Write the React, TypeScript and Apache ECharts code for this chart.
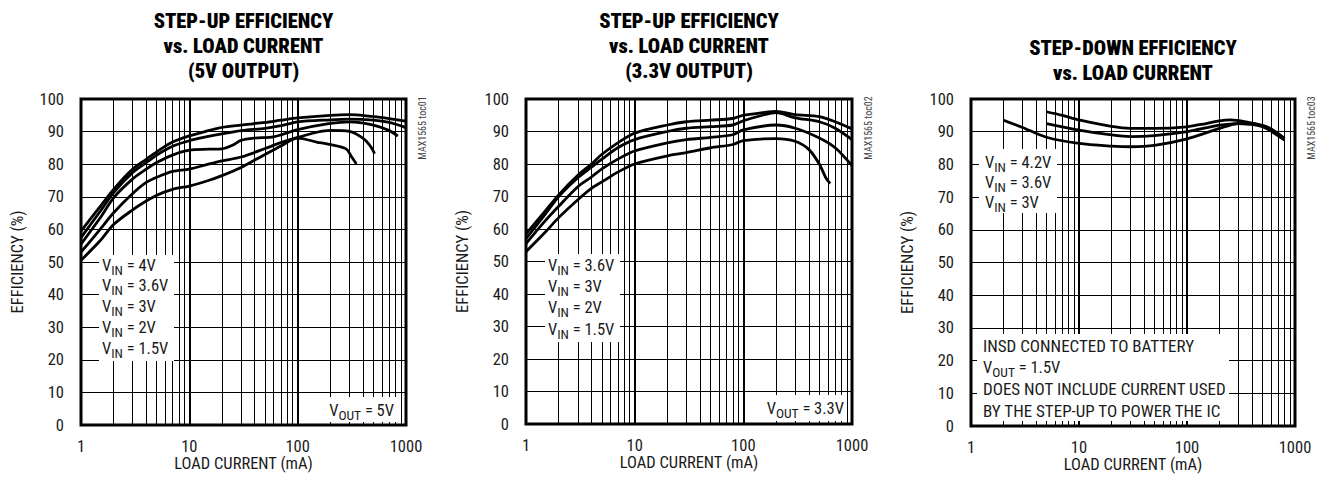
import React, { useEffect, useRef } from "react";
import * as echarts from "echarts";

// ---------- DATA ----------
const X_TICKS = [1, 10, 100, 1000];
const Y_TICKS = [0, 10, 20, 30, 40, 50, 60, 70, 80, 90, 100];
const MINOR_X = [2, 3, 4, 5, 6, 7, 8, 9, 20, 30, 40, 50, 60, 70, 80, 90, 200, 300, 400, 500, 600, 700, 800, 900];

// Panel 1: step-up, 5V output  [load mA, efficiency %]
const UP5_VIN4: number[][] = [[1, 59.5], [1.5, 67], [2, 72.3], [3, 78.5], [4, 81.5], [5, 83.8], [7, 86.8], [10, 88.7], [15, 90.3], [20, 91.3], [30, 92], [50, 92.8], [70, 93.5], [100, 94.2], [200, 95], [300, 95.2], [500, 94.6], [700, 94], [1000, 93.2]];
const UP5_VIN36: number[][] = [[1, 57.5], [1.5, 65.5], [2, 71.3], [3, 77.5], [4, 80.5], [5, 82.8], [7, 85.5], [10, 87.2], [15, 88.5], [20, 89.3], [30, 90.3], [50, 91], [70, 91.8], [100, 93], [200, 93.6], [300, 93.8], [500, 93.5], [700, 92.8], [1000, 91.2]];
const UP5_VIN3: number[][] = [[1, 55.5], [1.5, 63.5], [2, 69.7], [3, 75.5], [4, 78.5], [5, 80.5], [7, 82.8], [10, 84.3], [15, 84.6], [20, 84.7], [25, 85.8], [30, 87.3], [40, 88], [60, 88.4], [100, 90.6], [200, 92.5], [300, 93], [500, 92], [700, 90.3], [840, 88.6]];
const UP5_VIN2: number[][] = [[1, 53], [1.5, 60], [2, 65.1], [3, 71], [4, 74.4], [5, 76], [7, 77.8], [10, 78.5], [15, 80], [20, 81], [30, 82.2], [50, 84.8], [70, 86.6], [100, 88.2], [150, 89.8], [200, 90.4], [300, 90.1], [400, 88], [470, 85.5], [513, 83.2]];
const UP5_VIN15: number[][] = [[1, 50.5], [1.5, 56.5], [2, 61.5], [3, 66], [4, 68.7], [5, 70.5], [7, 72.3], [10, 73.3], [15, 75], [20, 76.5], [30, 79], [50, 83], [70, 85.6], [100, 88], [150, 86.8], [200, 86], [280, 84.7], [310, 82.6], [348, 80.1]];

// Panel 2: step-up, 3.3V output
const UP33_VIN36: number[][] = [[1, 58.5], [1.5, 65.5], [2, 70.5], [3, 76.5], [4, 80], [5, 83], [7, 86.5], [10, 89.5], [20, 92], [30, 93], [50, 93.5], [80, 94], [100, 95], [150, 95.8], [200, 96.2], [300, 95.2], [500, 94.6], [700, 93], [1000, 90.8]];
const UP33_VIN3: number[][] = [[1, 57], [1.5, 64.5], [2, 70], [3, 75.8], [4, 79], [5, 81.5], [7, 85], [10, 87.5], [20, 90], [30, 91], [50, 91.5], [80, 92], [100, 93.3], [150, 95], [200, 95.8], [300, 94.2], [500, 93], [700, 91], [1000, 87.5]];
const UP33_VIN2: number[][] = [[1, 55.5], [1.5, 62.5], [2, 67], [3, 73], [4, 76], [5, 78.5], [7, 81.5], [10, 84], [20, 86.5], [30, 87.5], [50, 88.2], [80, 89], [100, 90.5], [200, 92], [300, 91], [500, 88], [700, 85], [1000, 79.5]];
const UP33_VIN15: number[][] = [[1, 53], [1.5, 59], [2, 63.5], [3, 69], [4, 72.5], [5, 74.5], [7, 77.5], [10, 80], [20, 82.5], [30, 83.5], [50, 85], [80, 86], [100, 87.2], [200, 87.8], [300, 87], [400, 84.5], [500, 80], [580, 75.5], [630, 74]];

// Panel 3: step-down
const DN_VIN42: number[][] = [[5, 96.1], [7, 95], [10, 93.6], [20, 91.6], [30, 91], [50, 91], [100, 91.5], [150, 92.5], [200, 93.3], [250, 93.6], [350, 93], [550, 91.5], [800, 88]];
const DN_VIN36: number[][] = [[5, 92.5], [10, 90.5], [20, 89], [30, 88.5], [50, 88.8], [100, 90], [200, 92], [300, 92.5], [500, 91.8], [800, 87.8]];
const DN_VIN3: number[][] = [[2, 93.5], [3, 91.3], [5, 88.3], [10, 86.4], [20, 85.6], [30, 85.4], [50, 85.8], [100, 87.8], [200, 91], [300, 92.5], [500, 91.5], [800, 87.4]];

const TITLES = [
  ["STEP-UP EFFICIENCY", "vs. LOAD CURRENT", "(5V OUTPUT)"],
  ["STEP-UP EFFICIENCY", "vs. LOAD CURRENT", "(3.3V OUTPUT)"],
  ["STEP-DOWN EFFICIENCY", "vs. LOAD CURRENT"],
];
const LEGENDS = [
  ["4V", "3.6V", "3V", "2V", "1.5V"],
  ["3.6V", "3V", "2V", "1.5V"],
  ["4.2V", "3.6V", "3V"],
];
const VOUTS = ["5V", "3.3V"];
const TOCS = ["MAX1565 toc01", "MAX1565 toc02", "MAX1565 toc03"];
const NOTE3 = ["INSD CONNECTED TO BATTERY", "VOUT", "DOES NOT INCLUDE CURRENT USED", "BY THE STEP-UP TO POWER THE IC"];
const NOTE3_VOUT = "1.5V";
const X_NAME = "LOAD CURRENT (mA)";
const Y_NAME = "EFFICIENCY (%)";

const PANELS = [
  [UP5_VIN4, UP5_VIN36, UP5_VIN3, UP5_VIN2, UP5_VIN15],
  [UP33_VIN36, UP33_VIN3, UP33_VIN2, UP33_VIN15],
  [DN_VIN42, DN_VIN36, DN_VIN3],
];

// ---------- LAYOUT ----------
const FONT = '"Roboto Condensed", "Liberation Sans Narrow", Roboto, sans-serif';
const TITLE_FONT = '"Roboto Condensed", Roboto, sans-serif';
const GRIDS = [
  { left: 81, top: 99, width: 325, height: 326 },
  { left: 526, top: 99, width: 326, height: 325 },
  { left: 971, top: 99, width: 324, height: 327 },
];
const TEXT_COLOR = "#1a1a1a";
const FS = 16.5;

function richV(sub: string, rest: string) {
  return {
    text: `{a|V}{b|${sub}}{a| = ${rest}}`,
    rich: {
      a: { fontSize: FS, fontFamily: FONT, fill: TEXT_COLOR, color: TEXT_COLOR, lineHeight: 22, verticalAlign: "middle" },
      b: { fontSize: 13.5, fontFamily: FONT, fill: TEXT_COLOR, color: TEXT_COLOR, lineHeight: 22, padding: [9, 0, 0, 0], verticalAlign: "middle" },
    },
  };
}

function buildOption() {
  const grid = GRIDS.map((g) => ({ ...g, show: true, borderColor: "#000", borderWidth: 3, backgroundColor: "transparent" }));
  const xAxis = GRIDS.map((_, i) => ({
    type: "log",
    logBase: 10,
    gridIndex: i,
    min: X_TICKS[0],
    max: X_TICKS[X_TICKS.length - 1],
    axisLine: { show: false },
    axisTick: { show: false },
    axisLabel: { fontSize: FS, lineHeight: 16, fontFamily: FONT, color: TEXT_COLOR, margin: 13, formatter: (v: number) => String(Math.round(v)) },
    splitLine: { show: true, lineStyle: { color: "#000", width: 2 } },
    name: X_NAME,
    nameLocation: "middle",
    nameGap: 30,
    nameMoveOverlap: false,
    nameTextStyle: { fontSize: FS, lineHeight: 16, fontFamily: FONT, color: TEXT_COLOR },
  }));
  const yAxis = GRIDS.map((_, i) => ({
    type: "value",
    gridIndex: i,
    min: Y_TICKS[0],
    max: Y_TICKS[Y_TICKS.length - 1],
    interval: 10,
    axisLine: { show: false },
    axisTick: { show: false },
    axisLabel: { fontSize: FS, fontFamily: FONT, color: TEXT_COLOR, margin: 17 },
    splitLine: { show: true, lineStyle: { color: "#000", width: 1 } },
    name: Y_NAME,
    nameLocation: "middle",
    nameGap: 55,
    nameMoveOverlap: false,
    nameRotate: 90,
    nameTextStyle: { fontSize: FS, fontFamily: FONT, color: TEXT_COLOR },
  }));

  const series: any[] = [];
  PANELS.forEach((curves, p) => {
    series.push({
      type: "line",
      xAxisIndex: p,
      yAxisIndex: p,
      data: [[1, 0], [1000, 0]],
      symbol: "none",
      lineStyle: { opacity: 0, width: 0 },
      silent: true,
      z: 1,
      markLine: {
        silent: true,
        symbol: ["none", "none"],
        label: { show: false },
        z: 1,
        animation: false,
        lineStyle: { color: "#000", width: 1, type: "solid" },
        emphasis: { disabled: true },
        data: MINOR_X.map((v) => ({ xAxis: v })),
      },
    });
    curves.forEach((d) => {
      series.push({
        type: "line",
        xAxisIndex: p,
        yAxisIndex: p,
        data: d,
        symbol: "none",
        smooth: 0.3,
        silent: true,
        z: 10,
        lineStyle: { color: "#000", width: 2.8 },
      });
    });
  });

  const graphic: any[] = [];
  // Titles
  TITLES.forEach((lines, p) => {
    const g = GRIDS[p];
    const cx = g.left + g.width / 2;
    const startY = lines.length === 3 ? 21 : 48;
    lines.forEach((t, k) => {
      graphic.push({
        type: "text",
        z: 20,
        style: { text: t, x: cx, y: startY + k * 25, align: "center", verticalAlign: "middle", fontSize: 20.5, fontWeight: 900, fontFamily: TITLE_FONT, fill: "#000" },
      });
    });
  });
  // toc labels
  TOCS.forEach((t, p) => {
    const g = GRIDS[p];
    graphic.push({
      type: "text",
      z: 20,
      x: g.left + g.width + 16,
      y: g.top + 29,
      rotation: Math.PI / 2,
      style: { text: t, x: 0, y: 0, align: "center", verticalAlign: "middle", fontSize: 10, fontFamily: FONT, fill: "#444" },
    });
  });
  // Legend boxes
  const legendBoxes = [
    { x: 99, y: 255, w: 75, h: 106, tx: 102, ty: 265, dy: 20.8 },
    { x: 545, y: 254, w: 75, h: 88, tx: 548, ty: 265, dy: 21.4 },
    { x: 979, y: 149, w: 78, h: 64, tx: 985, ty: 162, dy: 20 },
  ];
  LEGENDS.forEach((items, p) => {
    const b = legendBoxes[p];
    graphic.push({ type: "rect", z: 5, shape: { x: b.x, y: b.y, width: b.w, height: b.h }, style: { fill: "#fff" } });
    items.forEach((v, k) => {
      graphic.push({ type: "text", z: 6, style: { ...richV("IN", v), x: b.tx, y: b.ty + k * b.dy, align: "left", verticalAlign: "middle" } });
    });
  });
  // VOUT boxes
  const voutBoxes = [
    { x: 327, y: 397, w: 72, h: 25, tx: 394, ty: 410 },
    { x: 762, y: 395, w: 85, h: 26, tx: 844, ty: 408 },
  ];
  VOUTS.forEach((v, p) => {
    const b = voutBoxes[p];
    graphic.push({ type: "rect", z: 5, shape: { x: b.x, y: b.y, width: b.w, height: b.h }, style: { fill: "#fff" } });
    graphic.push({ type: "text", z: 6, style: { ...richV("OUT", v), x: b.tx, y: b.ty, align: "right", verticalAlign: "middle" } });
  });
  // Note box panel 3
  graphic.push({ type: "rect", z: 5, shape: { x: 977, y: 334, width: 252, height: 87 }, style: { fill: "#fff" } });
  NOTE3.forEach((t, k) => {
    const y = 346 + k * 21.6;
    if (t === "VOUT") {
      graphic.push({ type: "text", z: 6, style: { ...richV("OUT", NOTE3_VOUT), x: 983, y, align: "left", verticalAlign: "middle" } });
    } else {
      graphic.push({ type: "text", z: 6, style: { text: t, x: 983, y, align: "left", verticalAlign: "middle", fontSize: 17, fontFamily: FONT, fill: TEXT_COLOR } });
    }
  });

  return {
    animation: false,
    backgroundColor: "#fff",
    grid,
    xAxis,
    yAxis,
    series,
    graphic,
  };
}

export default function App() {
  const ref = useRef<HTMLDivElement>(null);
  useEffect(() => {
    if (!ref.current) return;
    const chart = echarts.init(ref.current, undefined, { renderer: "svg" });
    chart.setOption(buildOption() as any);
    return () => chart.dispose();
  }, []);
  return <div ref={ref} style={{ position: "fixed", left: 0, top: 0, width: 1320, height: 482, background: "#fff" }} />;
}
